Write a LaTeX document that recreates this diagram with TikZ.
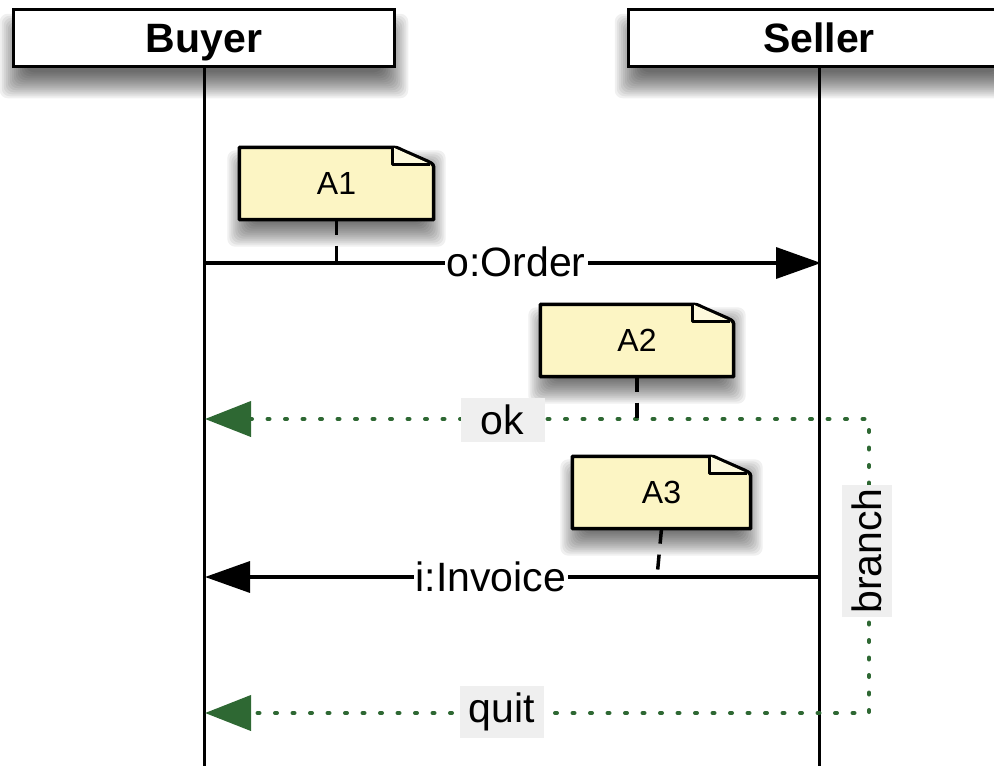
\documentclass[tikz,border=0pt]{standalone}
\usepackage{fontspec}
\setmainfont{Liberation Sans}
\usetikzlibrary{arrows.meta,calc}

\definecolor{notefill}{RGB}{252,245,196}
\definecolor{notefold}{RGB}{253,249,220}
\definecolor{flowgreen}{RGB}{46,104,51}
\definecolor{tagbg}{RGB}{239,239,239}

\pgfdeclarelayer{shade}
\pgfdeclarelayer{paper}
\pgfsetlayers{shade,paper,main}

\tikzset{
  FlowTip/.tip={Triangle[length=46pt,width=35pt,fill=flowgreen,color=flowgreen]},
  MsgTip/.tip={Triangle[length=45pt,width=31pt,fill=black,color=black]},
  actor/.style={draw, line width=3.5pt, fill=white, minimum width=381pt,
    minimum height=57pt, inner sep=0pt, text height=29pt, text depth=0pt,
    font=\fontsize{41}{48}\selectfont\bfseries},
  lifeline/.style={line width=3pt},
  msg/.style={line width=3.5pt, -{MsgTip}},
  msglabel/.style={fill=white, inner sep=2pt, font=\fontsize{41}{48}\selectfont},
  flow/.style={draw=flowgreen, line width=4pt, line cap=round,
    dash pattern=on 2pt off 15.5pt},
  flowlabel/.style={fill=tagbg, inner xsep=3pt, inner ysep=7pt, minimum width=84pt,
    font=\fontsize{41}{48}\selectfont},
  notebox/.style={inner sep=0pt, minimum height=72pt,
    font=\fontsize{32}{38}\selectfont},
  notepaper/.style={draw, line width=3.5pt, fill=notefill, line join=round},
  foldline/.style={draw, line width=3pt, line join=round},
  anchorline/.style={line width=3.5pt, dash pattern=on 15pt off 11pt},
  shadelayer/.style={fill=black, opacity=0.06, rounded corners=8pt},
}

% soft drop shadow: stacked translucent rectangles under a node
% #1 node, #2 downward offset, #3 largest spread
\newcommand\softshadow[3]{%
  \begin{pgfonlayer}{shade}
    \foreach \r in {-14,-12,...,#3}{%
      \fill[shadelayer] ([xshift=-\r pt, yshift=\r pt-#2 pt]#1.north west)
        rectangle ([xshift=\r pt, yshift=-\r pt-#2 pt]#1.south east);
    }
  \end{pgfonlayer}}

% dog-eared note outline drawn behind the note node
\newcommand\notesheet[1]{%
  \softshadow{#1}{15}{12}
  \begin{pgfonlayer}{paper}
    \path[notepaper] (#1.south west) -- (#1.north west)
      -- ([xshift=-44pt]#1.north east)
      .. controls ([xshift=-37pt]#1.north east) .. ([xshift=-31pt,yshift=-3pt]#1.north east)
      -- ([xshift=-6pt,yshift=-14pt]#1.north east)
      .. controls ([yshift=-17pt]#1.north east) .. ([yshift=-23pt]#1.north east)
      -- (#1.south east) -- cycle;
    \fill[notefold] ([xshift=-41pt]#1.north east) -- ([xshift=-41pt,yshift=-17pt]#1.north east)
      -- ([xshift=-3pt,yshift=-17pt]#1.north east) -- cycle;
    \path[foldline] ([xshift=-41pt]#1.north east) -- ([xshift=-41pt,yshift=-17pt]#1.north east)
      -- ([xshift=-4pt,yshift=-17pt]#1.north east);
  \end{pgfonlayer}}

\begin{document}
\begin{tikzpicture}[x=1pt, y={(0pt,-1pt)}]
  \useasboundingbox (0,0) rectangle (994,766);
  \clip (0,0) rectangle (994,766);

  % participants and lifelines
  \node[actor] (buyer) at (204,38) {Buyer};
  \node[actor] (seller) at (819,38) {Seller};
  \softshadow{buyer}{18}{12}
  \softshadow{seller}{18}{12}
  \coordinate (buyerfoot) at (204,770);
  \coordinate (sellerfoot) at (819,770);
  \draw[lifeline] (buyer.south) -- (buyerfoot);
  \draw[lifeline] (seller.south) -- (sellerfoot);

  % message end points
  \coordinate (orderfrom) at (204,263);
  \coordinate (orderto) at (821,263);
  \coordinate (invfrom) at (819,577);
  \coordinate (invto) at (205,577);
  \coordinate (okto) at (205,419);
  \coordinate (branchtop) at (869,419);
  \coordinate (branchbot) at (869,713);
  \coordinate (quitto) at (205,713);
  \coordinate (a3foot) at (657,577);

  % annotation notes
  \node[notebox, minimum width=194pt] (a1) at (336.5,183.5) {A1};
  \notesheet{a1}
  \node[notebox, minimum width=193pt] (a2) at (637,340.5) {A2};
  \notesheet{a2}
  \node[notebox, minimum width=178pt] (a3) at (661.5,492.5) {A3};
  \notesheet{a3}

  % messages
  \draw[msg] (orderfrom) -- (orderto);
  \draw[msg] (invfrom) -- (invto);
  \draw[flow, {FlowTip}-{FlowTip}] (okto) -- (branchtop) -- (branchbot) -- (quitto);

  % note anchors
  \draw[anchorline] (a1.south) -- (a1.south |- orderfrom);
  \draw[anchorline] (a2.south) -- (a2.south |- okto);
  \draw[anchorline] (a3.south) -- (a3foot);

  % message labels
  \node[msglabel] (orderlbl) at (516,262) {o:Order};
  \node[msglabel] (invlbl) at (491,577) {i:Invoice};
  \node[flowlabel] (oklbl) at (502.5,420) {ok};
  \node[flowlabel] (quitlbl) at (502,712) {quit};
  \node[flowlabel, minimum width=0pt, inner ysep=10pt, rotate=90] (branchlbl) at (867,551) {branch};
\end{tikzpicture}
\end{document}
